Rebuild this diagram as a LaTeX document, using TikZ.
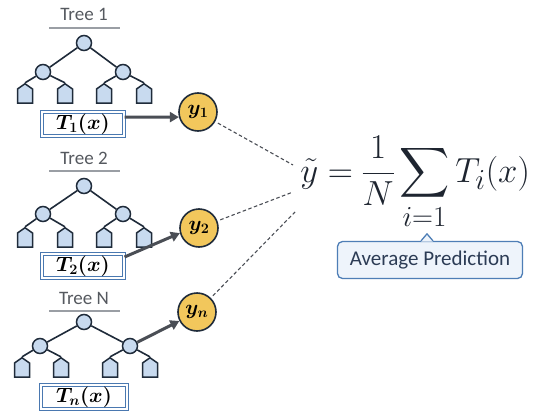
\documentclass[tikz,border=0pt]{standalone}
\usepackage{amsmath}
\usepackage{fontspec}
\setsansfont{Carlito}
\usetikzlibrary{shapes.symbols,arrows.meta}
\definecolor{nodefill}{HTML}{C8DAEF}
\definecolor{edgecol}{HTML}{1F2B3A}
\definecolor{goldfill}{HTML}{F2C75C}
\definecolor{boxblue}{HTML}{4A78B0}
\definecolor{arrowgray}{HTML}{4A4E55}
\definecolor{labelgray}{HTML}{55595F}
\definecolor{rulegray}{HTML}{9A9EA4}
\definecolor{callfill}{HTML}{EEF4FB}
\definecolor{callblue}{HTML}{4E7EB6}
\definecolor{calltext}{HTML}{2C3C55}
\definecolor{mathcol}{HTML}{1E2530}
\tikzset{
  tnode/.style={circle, draw=edgecol, fill=nodefill, line width=1.5pt, minimum size=15pt, inner sep=0},
  leaf/.style={signal, signal to=north, signal pointer angle=110, draw=edgecol, fill=nodefill,
    line width=1.5pt, minimum width=15pt, minimum height=14pt, inner sep=0},
  tedge/.style={draw=edgecol, line width=1.6pt},
  tlabel/.style={font=\sffamily\fontsize{19}{22}\selectfont, text=labelgray},
  trule/.style={draw=rulegray, line width=2.5pt},
  tbox/.style={draw=boxblue, double=white, double distance=1.6pt, line width=1.1pt, fill=white,
    minimum width=82pt, minimum height=24pt, inner sep=0, font=\fontsize{20.74}{24}\selectfont\boldmath},
  ycirc/.style={circle, draw=edgecol, fill=goldfill, line width=1.6pt, minimum size=38pt, inner sep=0,
    font=\fontsize{20.74}{24}\selectfont\boldmath},
  arr/.style={draw=arrowgray, line width=3pt, -{Triangle[length=9pt,width=10pt]}},
  dashline/.style={draw=arrowgray, line width=1.1pt, dash pattern=on 3.5pt off 2.5pt},
  callbox/.style={draw=callblue, fill=callfill, rounded corners=5pt, line width=1.3pt,
    minimum width=185pt, minimum height=37pt, inner sep=0,
    font=\sffamily\fontsize{21}{25}\selectfont, text=calltext}
}
\begin{document}
\begin{tikzpicture}[x=1pt, y=-1pt]
\useasboundingbox[fill=white] (0,0) rectangle (538,415);

% ---------- Tree 1 ----------
\node[tlabel] (t1lab) at (84,14) {Tree 1};
\draw[trule] (49,28) -- (120,28);
\node[tnode] (t1r) at (84,43) {};
\node[tnode] (t1a) at (43,72) {};
\node[tnode] (t1b) at (123,72) {};
\node[leaf] (t1l1) at (25,96) {};
\node[leaf] (t1l2) at (65,96) {};
\node[leaf] (t1l3) at (104,96) {};
\node[leaf] (t1l4) at (144,96) {};
\draw[tedge] (t1r) -- (t1a);
\draw[tedge] (t1r) -- (t1b);
\draw[tedge] (t1a) -- (t1l1.north);
\draw[tedge] (t1a) -- (t1l2.north);
\draw[tedge] (t1b) -- (t1l3.north);
\draw[tedge] (t1b) -- (t1l4.north);
\node[tbox] (t1box) at (83,124) {$T_1(x)$};

% ---------- Tree 2 ----------
\node[tlabel] (t2lab) at (84,158) {Tree 2};
\draw[trule] (49,171) -- (120,171);
\node[tnode] (t2r) at (84,186) {};
\node[tnode] (t2a) at (43,214) {};
\node[tnode] (t2b) at (123,214) {};
\node[leaf] (t2l1) at (25,240) {};
\node[leaf] (t2l2) at (65,240) {};
\node[leaf] (t2l3) at (104,240) {};
\node[leaf] (t2l4) at (144,240) {};
\draw[tedge] (t2r) -- (t2a);
\draw[tedge] (t2r) -- (t2b);
\draw[tedge] (t2a) -- (t2l1.north);
\draw[tedge] (t2a) -- (t2l2.north);
\draw[tedge] (t2b) -- (t2l3.north);
\draw[tedge] (t2b) -- (t2l4.north);
\node[tbox] (t2box) at (83,266) {$T_2(x)$};

% ---------- Tree N ----------
\node[tlabel] (tnlab) at (84,298) {Tree N};
\draw[trule] (49,311) -- (120,311);
\node[tnode] (tnr) at (84,322) {};
\node[tnode] (tna) at (40,346) {};
\node[tnode] (tnb) at (130,346) {};
\node[leaf] (tnl1) at (22,370) {};
\node[leaf] (tnl2) at (61,370) {};
\node[leaf] (tnl3) at (110,370) {};
\node[leaf] (tnl4) at (150,370) {};
\draw[tedge] (tnr) -- (tna);
\draw[tedge] (tnr) -- (tnb);
\draw[tedge] (tna) -- (tnl1.north);
\draw[tedge] (tna) -- (tnl2.north);
\draw[tedge] (tnb) -- (tnl3.north);
\draw[tedge] (tnb) -- (tnl4.north);
\node[tbox, minimum width=86pt] (tnbox) at (84,397) {$T_n(x)$};

% ---------- predictions ----------
\node[ycirc] (y1) at (198,112) {$y_1$};
\node[ycirc] (y2) at (199,228) {$y_2$};
\node[ycirc] (yn) at (197,312) {$y_n$};

\draw[arr] ([yshift=7pt]t1box.east) -- (y1.195);
\draw[arr] ([yshift=9pt]t2box.east) -- (y2.195);
\draw[arr] (tnb.27) -- (yn.207);

% ---------- formula ----------
\node[anchor=base west, inner sep=0, scale=1.40, text=mathcol,
      font=\fontsize{24.88}{30}\selectfont] (ytilde) at (300,182)
  {\nulldelimiterspace=0pt$\tilde{y} = \dfrac{1}{N}\displaystyle\sum_{i=1} T_i(x)$};

\coordinate (c1) at (293,165);
\coordinate (c2) at (293,192);
\coordinate (c3) at (295,212);
\draw[dashline, shorten <=3pt] (y1) -- (c1);
\draw[dashline, shorten <=3pt] (y2) -- (c2);
\draw[dashline, shorten <=3pt] (yn) -- (c3);

% ---------- callout ----------
\node[callbox] (avg) at (430,260) {Average Prediction};
\fill[callfill] ([xshift=-9pt,yshift=-0.8pt]avg.north) -- ([xshift=-3pt,yshift=7pt]avg.north)
  -- ([xshift=3pt,yshift=-0.8pt]avg.north) -- cycle;
\draw[callblue, line width=1.3pt, line join=round] ([xshift=-9pt]avg.north) -- ([xshift=-3pt,yshift=7pt]avg.north)
  -- ([xshift=3pt]avg.north);
\end{tikzpicture}
\end{document}
